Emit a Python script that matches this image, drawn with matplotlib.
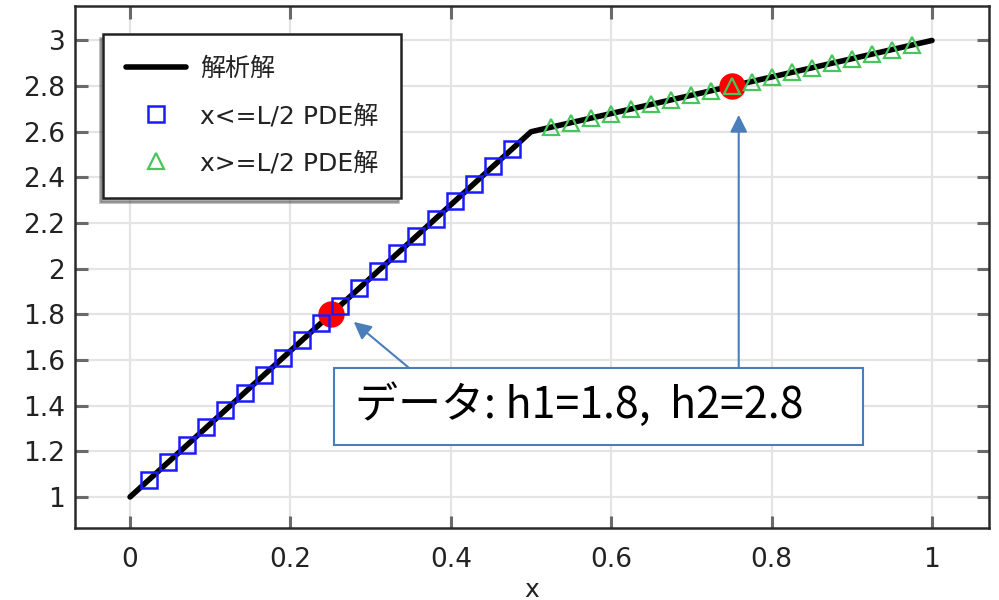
import matplotlib
matplotlib.use("Agg")
import matplotlib.pyplot as plt
from matplotlib.patches import Rectangle

# Analytical solution (piecewise linear head profile)
x_exact = [0.0, 0.5, 1.0]
h_exact = [1.0, 2.6, 3.0]

# PDE solution, left half (x <= L/2)
x_left = [0.0238, 0.0476, 0.0714, 0.0952, 0.1190, 0.1429, 0.1667, 0.1905,
          0.2143, 0.2381, 0.2619, 0.2857, 0.3095, 0.3333, 0.3571, 0.3810,
          0.4048, 0.4286, 0.4524, 0.4762]
h_left = [1.076, 1.152, 1.229, 1.305, 1.381, 1.457, 1.533, 1.610,
          1.686, 1.762, 1.838, 1.914, 1.990, 2.067, 2.143, 2.219,
          2.295, 2.371, 2.448, 2.524]

# PDE solution, right half (x >= L/2)
x_right = [0.525, 0.550, 0.575, 0.600, 0.625, 0.650, 0.675, 0.700, 0.725,
           0.750, 0.775, 0.800, 0.825, 0.850, 0.875, 0.900, 0.925, 0.950,
           0.975]
h_right = [2.62, 2.64, 2.66, 2.68, 2.70, 2.72, 2.74, 2.76, 2.78,
           2.80, 2.82, 2.84, 2.86, 2.88, 2.90, 2.92, 2.94, 2.96,
           2.98]

# Measured data points
x_data = [0.25, 0.75]
h_data = [1.8, 2.8]

x_ticks = [0, 0.2, 0.4, 0.6, 0.8, 1]
x_ticklabels = ["0", "0.2", "0.4", "0.6", "0.8", "1"]
y_ticks = [1, 1.2, 1.4, 1.6, 1.8, 2, 2.2, 2.4, 2.6, 2.8, 3]
y_ticklabels = ["1", "1.2", "1.4", "1.6", "1.8", "2", "2.2", "2.4", "2.6", "2.8", "3"]

legend_labels = ["解析解", "x<=L/2 PDE解", "x>=L/2 PDE解"]
note_text = f"データ: h1={h_data[0]},  h2={h_data[1]}"
x_label = "x"

LATIN = ["DejaVu Sans", "Noto Sans CJK JP"]
plt.rcParams["font.family"] = LATIN

fig = plt.figure(figsize=(9.99, 6.0), dpi=100)
ax = fig.add_axes([0.0751, 0.12, 0.9149, 0.87])

ax.set_xlim(-0.0686, 1.0711)
ax.set_ylim(0.864, 3.151)

ax.grid(True, color="#e4e4e4", linewidth=1.6, zorder=0)
ax.set_axisbelow(True)

ln, = ax.plot(x_exact, h_exact, color="black", linewidth=4.0,
              solid_joinstyle="round", solid_capstyle="round", zorder=2)
ax.plot(x_data, h_data, "o", color="#ff0000", markersize=18, zorder=3)
sq, = ax.plot(x_left, h_left, "s", markersize=11, markerfacecolor="none",
              markeredgecolor="#1a1aff", markeredgewidth=1.8, zorder=4)
tr, = ax.plot(x_right, h_right, "^", markersize=11.5, markerfacecolor="none",
              markeredgecolor="#48c55c", markeredgewidth=1.6, zorder=4)

ax.set_xticks(x_ticks, x_ticklabels)
ax.set_yticks(y_ticks, y_ticklabels)
ax.tick_params(axis="both", direction="in", length=9, width=2.2,
               color="#6a6a6a", labelsize=19, labelcolor="#222222",
               top=True, right=True)
ax.tick_params(axis="x", pad=14)
ax.tick_params(axis="y", pad=7)
for sp in ax.spines.values():
    sp.set_color("#2a2a2a")
    sp.set_linewidth(1.8)

ax.set_xlabel(x_label, fontsize=18, color="#222222", labelpad=3)

leg = ax.legend([ln, sq, tr], legend_labels, loc="upper left",
                bbox_to_anchor=(0.0306, 0.946), borderaxespad=0,
                prop={"family": LATIN, "size": 18},
                frameon=True, fancybox=False,
                handlelength=2.4, handletextpad=0.56, labelspacing=0.92,
                borderpad=0.92, framealpha=1,
                shadow={"ox": -2.5, "oy": -2.5, "color": "#5a5a5a"})
leg.get_frame().set_edgecolor("#222222")
leg.get_frame().set_linewidth(1.8)
for t in leg.get_texts():
    t.set_color("#222222")

# Annotation box with arrows pointing at the data points
note_color = "#4a7ebb"
box = Rectangle((0.2544, 1.228), 0.6596, 0.337, transform=ax.transData,
                facecolor="white", edgecolor=note_color, linewidth=1.5,
                zorder=6)
ax.add_patch(box)
ax.text(0.2805, 1.399, note_text, fontsize=31, va="center", ha="left",
        family=["Noto Sans CJK JP", "DejaVu Sans"], color="black", zorder=7)

arrow_props = dict(arrowstyle="-|>", color=note_color, lw=1.5,
                   mutation_scale=26, shrinkA=0, shrinkB=0)
ax.annotate("", xy=(x_data[0] + 0.029, h_data[0] - 0.033),
            xytext=(0.348, 1.565), arrowprops=arrow_props, zorder=5)
ax.annotate("", xy=(x_data[1] + 0.009, h_data[1] - 0.126),
            xytext=(x_data[1] + 0.009, 1.565), arrowprops=arrow_props, zorder=5)

fig.savefig("out.png", dpi=100)
